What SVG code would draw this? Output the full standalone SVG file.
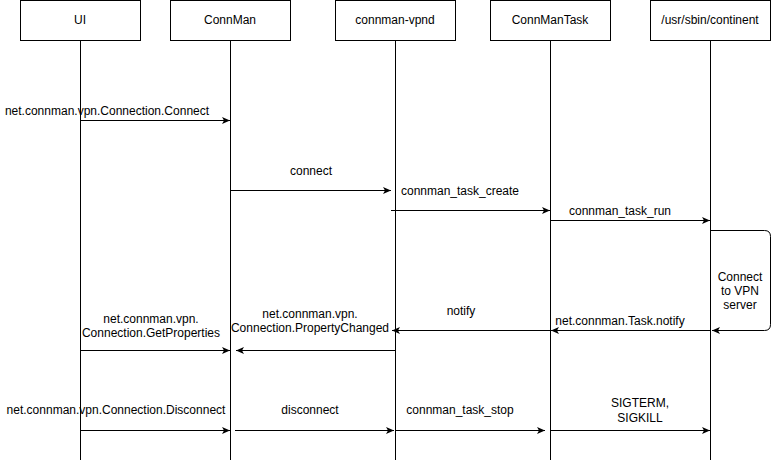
<svg xmlns="http://www.w3.org/2000/svg" width="779" height="462" viewBox="0 0 779 462">
<style>
text{font-family:"Liberation Sans",Arial,sans-serif;font-size:12px;fill:#000;text-anchor:middle}
.box{fill:#fff;stroke:#000;stroke-width:1}
.life{stroke:#000;stroke-width:1;fill:none}
.msg{stroke:#000;stroke-width:1;fill:none;marker-end:url(#arr)}
</style>
<defs>
<marker id="arr" markerUnits="userSpaceOnUse" markerWidth="10" markerHeight="10" refX="8" refY="4" orient="auto">
<path d="M0,0.5 L8,4 L0,7.5 L2,4 z" fill="#000"/>
</marker>
</defs>
<rect width="779" height="462" fill="#fff"/>
<g id="ui"><rect class="box" x="20.5" y="0.5" width="120" height="40"/><text x="80" y="24">UI</text><line class="life" x1="80.5" y1="40.5" x2="80.5" y2="460"/></g>
<g id="connman"><rect class="box" x="170.5" y="0.5" width="120" height="40"/><text x="230" y="24">ConnMan</text><line class="life" x1="230.5" y1="40.5" x2="230.5" y2="460"/></g>
<g id="vpnd"><rect class="box" x="335.5" y="0.5" width="120" height="40"/><text x="395" y="24">connman-vpnd</text><line class="life" x1="395.5" y1="40.5" x2="395.5" y2="460"/></g>
<g id="task"><rect class="box" x="490.5" y="0.5" width="120" height="40"/><text x="550" y="24">ConnManTask</text><line class="life" x1="550.5" y1="40.5" x2="550.5" y2="460"/></g>
<g id="continent"><rect class="box" x="650.5" y="0.5" width="120" height="40"/><text x="710" y="24">/usr/sbin/continent</text><line class="life" x1="710.5" y1="40.5" x2="710.5" y2="460"/></g>
<g id="connectors">
<line class="msg" x1="80.5" y1="120.5" x2="230" y2="120.5"/>
<line class="msg" x1="230.5" y1="190.5" x2="391" y2="190.5"/>
<line class="msg" x1="391" y1="210.5" x2="550" y2="210.5"/>
<line class="msg" x1="550.5" y1="220.5" x2="710" y2="220.5"/>
<path class="msg" d="M710.5,230.5 H764.5 Q770.5,230.5 770.5,236.5 V324.5 Q770.5,330.5 764.5,330.5 H712"/>
<line class="msg" x1="710.5" y1="330.5" x2="551" y2="330.5"/>
<line class="msg" x1="550.5" y1="330.5" x2="392" y2="330.5"/>
<line class="msg" x1="395.5" y1="350.5" x2="236" y2="350.5"/>
<line class="msg" x1="80.5" y1="350.5" x2="230" y2="350.5"/>
<line class="msg" x1="80.5" y1="430.5" x2="230" y2="430.5"/>
<line class="msg" x1="235" y1="430.5" x2="394" y2="430.5"/>
<line class="msg" x1="395.5" y1="430.5" x2="545" y2="430.5"/>
<line class="msg" x1="550.5" y1="430.5" x2="710" y2="430.5"/>
</g>
<g id="labels">
<text x="107" y="115">net.connman.vpn.Connection.Connect</text>
<text x="311" y="175">connect</text>
<text x="460" y="195">connman_task_create</text>
<text x="620" y="215">connman_task_run</text>
<text x="740" y="281">Connect</text>
<text x="740" y="295">to VPN</text>
<text x="740" y="309">server</text>
<text x="461" y="315">notify</text>
<text x="620" y="325">net.connman.Task.notify</text>
<text x="310" y="318">net.connman.vpn.</text>
<text x="310" y="332">Connection.PropertyChanged</text>
<text x="151" y="323">net.connman.vpn.</text>
<text x="151" y="337">Connection.GetProperties</text>
<text x="116" y="414">net.connman.vpn.Connection.Disconnect</text>
<text x="310" y="414">disconnect</text>
<text x="460" y="414">connman_task_stop</text>
<text x="640" y="407">SIGTERM,</text>
<text x="640" y="422">SIGKILL</text>
</g>
</svg>
